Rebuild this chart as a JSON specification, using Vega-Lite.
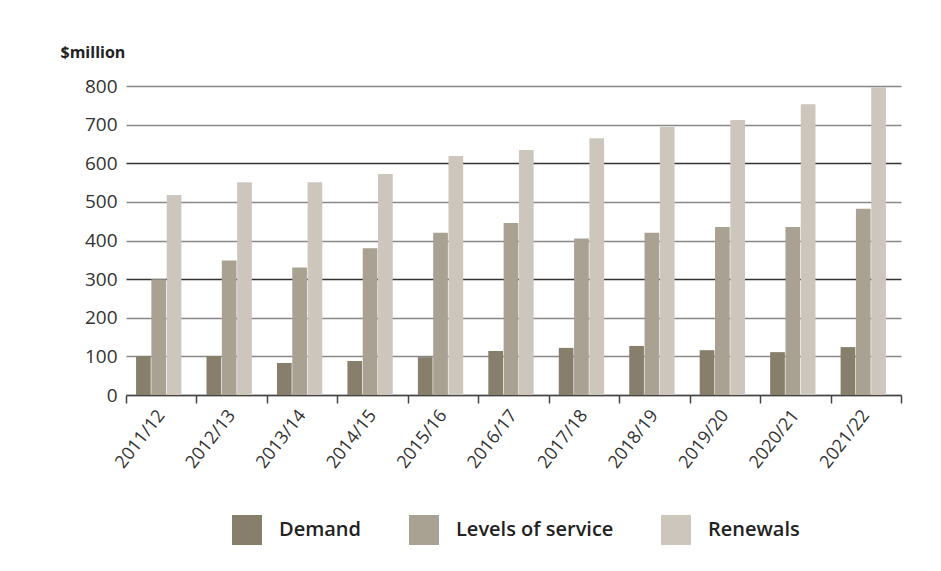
{
  "$schema": "https://vega.github.io/schema/vega-lite/v6.json",
  "width": 775,
  "height": 309,
  "autosize": {"type": "none"},
  "padding": {"left": 126, "top": 86, "right": 40, "bottom": 176},
  "background": "white",
  "config": {
    "view": {"stroke": null},
    "font": "Open Sans"
  },
  "data": {
    "values": [
      {"year": "2011/12", "type": "Demand", "value": 101},
      {"year": "2012/13", "type": "Demand", "value": 101},
      {"year": "2013/14", "type": "Demand", "value": 83},
      {"year": "2014/15", "type": "Demand", "value": 88},
      {"year": "2015/16", "type": "Demand", "value": 98},
      {"year": "2016/17", "type": "Demand", "value": 114},
      {"year": "2017/18", "type": "Demand", "value": 122},
      {"year": "2018/19", "type": "Demand", "value": 127},
      {"year": "2019/20", "type": "Demand", "value": 116},
      {"year": "2020/21", "type": "Demand", "value": 111},
      {"year": "2021/22", "type": "Demand", "value": 124},
      {"year": "2011/12", "type": "Levels of service", "value": 300},
      {"year": "2012/13", "type": "Levels of service", "value": 348},
      {"year": "2013/14", "type": "Levels of service", "value": 330},
      {"year": "2014/15", "type": "Levels of service", "value": 380},
      {"year": "2015/16", "type": "Levels of service", "value": 420},
      {"year": "2016/17", "type": "Levels of service", "value": 445},
      {"year": "2017/18", "type": "Levels of service", "value": 405},
      {"year": "2018/19", "type": "Levels of service", "value": 420},
      {"year": "2019/20", "type": "Levels of service", "value": 435},
      {"year": "2020/21", "type": "Levels of service", "value": 435},
      {"year": "2021/22", "type": "Levels of service", "value": 482},
      {"year": "2011/12", "type": "Renewals", "value": 518},
      {"year": "2012/13", "type": "Renewals", "value": 551},
      {"year": "2013/14", "type": "Renewals", "value": 551},
      {"year": "2014/15", "type": "Renewals", "value": 572},
      {"year": "2015/16", "type": "Renewals", "value": 619},
      {"year": "2016/17", "type": "Renewals", "value": 634},
      {"year": "2017/18", "type": "Renewals", "value": 665},
      {"year": "2018/19", "type": "Renewals", "value": 694},
      {"year": "2019/20", "type": "Renewals", "value": 712},
      {"year": "2020/21", "type": "Renewals", "value": 753},
      {"year": "2021/22", "type": "Renewals", "value": 797}
    ]
  },
  "mark": {"type": "bar"},
  "encoding": {
    "x": {
      "field": "year",
      "type": "nominal",
      "scale": {"paddingInner": 0, "paddingOuter": 0},
      "axis": {
        "title": null,
        "labelAngle": -52,
        "labelFontSize": 18,
        "labelColor": "#333333",
        "labelPadding": 9,
        "tickBand": "extent",
        "tickSize": 8,
        "tickColor": "#444444",
        "tickWidth": 1.5,
        "domainColor": "#444444",
        "domainWidth": 1.5,
        "grid": false
      }
    },
    "xOffset": {
      "field": "type",
      "type": "nominal",
      "scale": {"paddingInner": 0.04, "paddingOuter": 0.82, "align": 0.4}
    },
    "y": {
      "field": "value",
      "type": "quantitative",
      "scale": {"domain": [0, 800], "nice": false},
      "axis": {
        "values": [0, 100, 200, 300, 400, 500, 600, 700, 800],
        "title": "$million",
        "titleAngle": 0,
        "titleAlign": "left",
        "titleBaseline": "alphabetic",
        "titleX": -66,
        "titleY": -29,
        "titleFontSize": 16,
        "titleFontWeight": "bold",
        "titleColor": "#222222",
        "labelFontSize": 19,
        "labelColor": "#333333",
        "labelPadding": 9,
        "domain": false,
        "ticks": false,
        "grid": true,
        "gridWidth": 1.5,
        "gridColor": {
          "condition": {"test": "datum.value == 600 || datum.value == 300", "value": "#333333"},
          "value": "#888888"
        }
      }
    },
    "color": {
      "field": "type",
      "type": "nominal",
      "scale": {
        "domain": ["Demand", "Levels of service", "Renewals"],
        "range": ["#877e6c", "#a9a191", "#cdc6bc"]
      },
      "legend": {
        "title": null,
        "orient": "none",
        "direction": "horizontal",
        "legendX": 106,
        "legendY": 429,
        "symbolType": "square",
        "symbolSize": 900,
        "symbolStrokeWidth": 0,
        "labelFontSize": 20,
        "labelFontWeight": 600,
        "labelColor": "#222222",
        "labelOffset": 17,
        "columnPadding": 47,
        "labelLimit": 300
      }
    }
  }
}
